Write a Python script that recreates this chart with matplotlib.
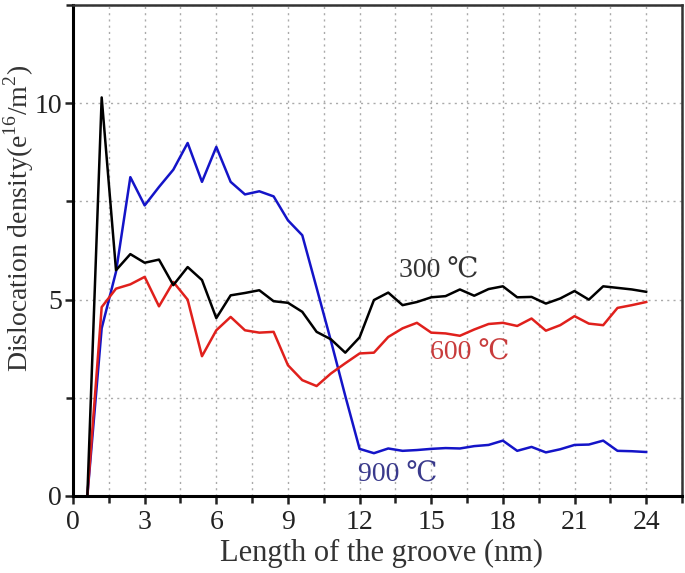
import matplotlib
matplotlib.use("Agg")
import matplotlib.pyplot as plt
from matplotlib.ticker import MultipleLocator

plt.rcParams["font.family"] = ["Liberation Serif", "DejaVu Serif"]
plt.rcParams["mathtext.fontset"] = "custom"
plt.rcParams["mathtext.rm"] = "Liberation Serif"

# groove length (nm), one sample every 0.6 nm
length_nm = [0.6, 1.2, 1.8, 2.4, 3.0, 3.6, 4.2, 4.8, 5.4, 6.0,
             6.6, 7.2, 7.8, 8.4, 9.0, 9.6, 10.2, 10.8, 11.4, 12.0,
             12.6, 13.2, 13.8, 14.4, 15.0, 15.6, 16.2, 16.8, 17.4, 18.0,
             18.6, 19.2, 19.8, 20.4, 21.0, 21.6, 22.2, 22.8, 23.4, 24.0]

density_300 = [0.0, 10.15, 5.75, 6.16, 5.94, 6.02, 5.37, 5.83, 5.50, 4.53,
               5.11, 5.17, 5.24, 4.96, 4.92, 4.69, 4.18, 3.99, 3.65, 4.04,
               4.99, 5.18, 4.86, 4.94, 5.06, 5.09, 5.26, 5.10, 5.27, 5.34,
               5.06, 5.07, 4.90, 5.03, 5.22, 5.00, 5.34, 5.30, 5.26, 5.20]

density_600 = [0.0, 4.81, 5.28, 5.39, 5.58, 4.83, 5.45, 5.00, 3.56, 4.22,
               4.56, 4.22, 4.16, 4.18, 3.33, 2.95, 2.80, 3.12, 3.38, 3.63,
               3.65, 4.05, 4.27, 4.41, 4.16, 4.14, 4.08, 4.24, 4.38, 4.41,
               4.33, 4.52, 4.21, 4.35, 4.58, 4.39, 4.35, 4.79, 4.86, 4.94]

density_900 = [0.0, 4.27, 5.71, 8.12, 7.40, 7.87, 8.31, 8.99, 8.00, 8.89,
               8.00, 7.68, 7.76, 7.63, 7.02, 6.64, 5.30, 3.95, 2.55, 1.20,
               1.09, 1.21, 1.15, 1.17, 1.20, 1.22, 1.21, 1.27, 1.30, 1.41,
               1.15, 1.25, 1.11, 1.19, 1.30, 1.31, 1.41, 1.15, 1.14, 1.12]

fig = plt.figure(figsize=(6.85, 5.73), dpi=100)
ax = fig.add_axes([0.1066, 0.1344, 0.889, 0.8566])

ax.plot(length_nm, density_900, color="#1414c8", lw=1.8)
ax.plot(length_nm, density_600, color="#e0201c", lw=1.8)
ax.plot(length_nm, density_300, color="black", lw=1.8)

ax.set_xlim(0, 25.5)
ax.set_ylim(0, 12.5)
ax.xaxis.set_major_locator(MultipleLocator(3))
ax.xaxis.set_minor_locator(MultipleLocator(1.5))
ax.yaxis.set_major_locator(MultipleLocator(5))
ax.yaxis.set_minor_locator(MultipleLocator(2.5))
ax.grid(True, which="both", color="#aaaaaa", linestyle=(0, (1.5, 3)), lw=1.0)
ax.tick_params(which="both", direction="out", width=1.8, labelsize=20,
               colors="#222222")
ax.tick_params(axis="x", pad=4)
ax.tick_params(axis="y", pad=2)
ax.tick_params(which="major", length=6)
ax.tick_params(which="minor", length=5)

for side in ["left", "bottom"]:
    ax.spines[side].set_linewidth(2.2)
for side in ["top", "right"]:
    ax.spines[side].set_linewidth(1.8)
    ax.spines[side].set_color("#333333")

# axis titles placed in figure coords to match the reference
fig.text(382 / 685, 1 - 553 / 573, "Length of the groove (nm)", fontsize=22,
         color="#333333", ha="center", va="center")
fig.text(19 / 685, 1 - 218 / 573, r"Dislocation density(e$^{16}$/m$^{2}$)",
         fontsize=20, color="#333333", ha="center", va="center", rotation=90)

ax.text(15.3, 5.73, "300 ℃", fontsize=20, color="#333333", ha="center", va="center")
ax.text(16.6, 3.65, "600 ℃", fontsize=20, color="#c83c3c", ha="center", va="center")
ax.text(13.6, 0.53, "900 ℃", fontsize=20, color="#3a3a8c", ha="center", va="center")

fig.savefig("out.png", dpi=100)
